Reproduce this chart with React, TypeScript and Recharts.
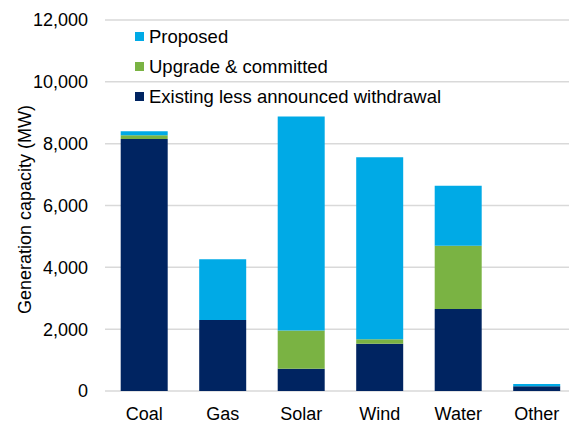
import { BarChart, Bar, XAxis, YAxis, CartesianGrid } from "recharts";

const categories = ["Coal", "Gas", "Solar", "Wind", "Water", "Other"];
const existing = [8150, 2300, 720, 1530, 2650, 150];
const upgrade = [120, 0, 1240, 140, 2050, 0];
const proposed = [130, 1960, 6920, 5890, 1940, 80];
const yTicks = [0, 2000, 4000, 6000, 8000, 10000, 12000];

const series = [
  { key: "existing", name: "Existing less announced withdrawal", color: "#002461" },
  { key: "upgrade", name: "Upgrade & committed", color: "#7AB343" },
  { key: "proposed", name: "Proposed", color: "#00AAE6" },
];

const data = categories.map((name, i) => ({
  name,
  existing: existing[i],
  upgrade: upgrade[i],
  proposed: proposed[i],
}));

function LegendBox() {
  // legend reads top-down in reverse stack order
  return (
    <div style={{ position: "absolute", left: 135, top: 21.5 }}>
      {[...series].reverse().map((s) => (
        <div key={s.key} style={{ display: "flex", alignItems: "center", height: 30, fontSize: 18.5, color: "#000", whiteSpace: "nowrap" }}>
          <span style={{ width: 8.5, height: 8.5, background: s.color, marginRight: 5.5 }} />
          {s.name}
        </div>
      ))}
    </div>
  );
}

function YTitle({ viewBox }: any) {
  const cx = viewBox.x + 25;
  const cy = viewBox.y + viewBox.height / 2 + 4;
  return (
    <text
      x={cx}
      y={cy}
      transform={`rotate(-90, ${cx}, ${cy})`}
      textAnchor="middle"
      dominantBaseline="central"
      fontSize={18}
      fill="#000"
    >
      Generation capacity (MW)
    </text>
  );
}

export default function App() {
  return (
    <div
      style={{
        position: "absolute",
        left: 0,
        top: 0,
        width: 569,
        height: 428,
        overflow: "hidden",
        background: "#fff",
        fontFamily: "'Liberation Sans', Arial, sans-serif",
      }}
    >
      <BarChart width={576} height={428} data={data} margin={{ top: 20, right: 0, left: 0, bottom: 0 }} barCategoryGap="20%">
        <CartesianGrid vertical={false} stroke="#d9d9d9" strokeWidth={1.5} />
        <XAxis
          dataKey="name"
          height={37}
          axisLine={false}
          tickLine={false}
          tickSize={0}
          tickMargin={16}
          interval={0}
          tick={{ fontSize: 18, fill: "#000" }}
        />
        <YAxis
          width={105}
          domain={[0, 12000]}
          ticks={yTicks}
          axisLine={false}
          tickLine={false}
          tickSize={0}
          tickMargin={17}
          tickFormatter={(v: number) => v.toLocaleString("en-US")}
          tick={{ fontSize: 18, fill: "#000" }}
          label={{ content: (props: any) => <YTitle {...props} /> }}
        />
        {series.map((s) => (
          <Bar key={s.key} dataKey={s.key} name={s.name} stackId="a" fill={s.color} isAnimationActive={false} />
        ))}
      </BarChart>
      <LegendBox />
    </div>
  );
}
